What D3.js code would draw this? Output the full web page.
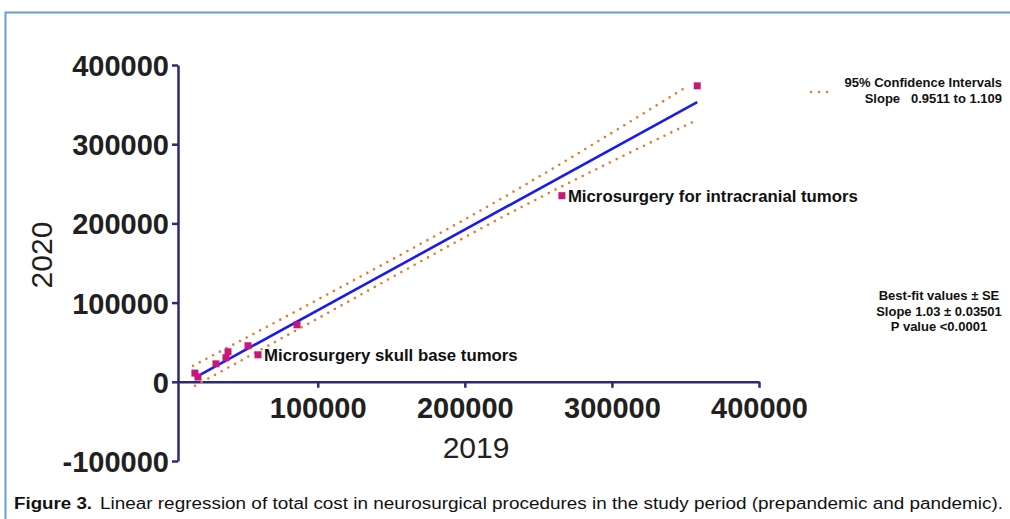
<!DOCTYPE html>
<html>
<head>
<meta charset="utf-8">
<script src="https://cdn.jsdelivr.net/npm/d3@7"></script>
<style>
  body { margin: 0; background: #fff; }
  svg { display: block; font-family: "Liberation Sans", Arial, sans-serif; }
</style>
</head>
<body>
<div id="chart-area"></div>
<script>
// procedures, total cost
var x2019 = [16500, 18600, 30800, 37600, 39000, 52600, 59400, 85900, 266000, 358000];
var y2020 = [11000, 6000, 22700, 30300, 37900, 45500, 34100, 72000, 235000, 373700];
var pointLabels = ["", "", "", "", "", "", "Microsurgery skull base tumors", "", "Microsurgery for intracranial tumors", ""];

// best-fit line (ends)
var fitX = [16560, 358000];
var fitY = [5400, 353000];

// 95% confidence bands
var upperX = [15200, 93400, 237600, 351100];
var upperY = [20200, 97200, 245000, 372800];
var lowerX = [16560, 93400, 237600, 356600];
var lowerY = [-5050, 73200, 219700, 329500];

var xTicks = [100000, 200000, 300000, 400000];
var yTicks = [-100000, 0, 100000, 200000, 300000, 400000];

var width = 1010;
var height = 519;

var svg = d3.select("#chart-area").append("svg")
    .attr("width", width)
    .attr("height", height);

// blue frame
svg.append("path")
    .attr("d", "M5.5,519 L5.5,12.5 L1010,12.5")
    .attr("fill", "none")
    .attr("stroke", "#6b9bd6")
    .attr("stroke-width", 2);

var x = d3.scaleLinear()
    .domain([5000, 400000])
    .range([178, 759]);

var y = d3.scaleLinear()
    .domain([-100000, 400000])
    .range([461, 65]);

var axisColor = "#2b2a78";
var plain = function (d) { return String(d); };

var leftAxis = d3.axisLeft(y)
    .tickValues(yTicks)
    .tickSizeInner(6)
    .tickSizeOuter(0)
    .tickPadding(3)
    .tickFormat(plain);

var gy = svg.append("g")
    .attr("transform", "translate(" + x.range()[0] + ",0)")
    .call(leftAxis);

var bottomAxis = d3.axisBottom(x)
    .tickValues(xTicks)
    .tickSizeInner(6)
    .tickSizeOuter(0)
    .tickPadding(10)
    .tickFormat(plain);

var gx = svg.append("g")
    .attr("transform", "translate(0," + y(0) + ")")
    .call(bottomAxis);

[gx, gy].forEach(function (g) {
    g.select(".domain").attr("stroke", axisColor).attr("stroke-width", 2.5);
    g.selectAll(".tick line").attr("stroke", axisColor).attr("stroke-width", 2.5);
    g.selectAll(".tick text")
        .attr("fill", "#231f20")
        .attr("font-size", "29px")
        .attr("font-weight", "bold")
        .attr("font-family", "'Liberation Sans', Arial, sans-serif");
});
gy.selectAll(".tick text").attr("dy", "0.36em");

// axis titles
svg.append("text")
    .attr("x", 476)
    .attr("y", 458)
    .attr("text-anchor", "middle")
    .attr("font-size", "30px")
    .attr("fill", "#231f20")
    .text("2019");

svg.append("text")
    .attr("transform", "translate(52,255) rotate(-90)")
    .attr("text-anchor", "middle")
    .attr("font-size", "30px")
    .attr("fill", "#231f20")
    .text("2020");

var line = d3.line()
    .x(function (d) { return x(d[0]); })
    .y(function (d) { return y(d[1]); });

var curve = d3.line()
    .x(function (d) { return x(d[0]); })
    .y(function (d) { return y(d[1]); })
    .curve(d3.curveMonotoneX);

var bandColor = "#e8772a";

[[upperX, upperY], [lowerX, lowerY]].forEach(function (b) {
    svg.append("path")
        .datum(d3.zip(b[0], b[1]))
        .attr("d", curve)
        .attr("fill", "none")
        .attr("stroke", bandColor)
        .attr("stroke-width", 2.6)
        .attr("stroke-linecap", "round")
        .attr("stroke-dasharray", "0,7.6");
});

svg.append("path")
    .datum(d3.zip(fitX, fitY))
    .attr("d", line)
    .attr("fill", "none")
    .attr("stroke", "#1a1af0")
    .attr("stroke-width", 2.6);

var pts = d3.zip(x2019, y2020, pointLabels);
var sq = 7;

svg.selectAll("rect.pt")
    .data(pts)
    .enter()
    .append("rect")
    .attr("class", "pt")
    .attr("x", function (d) { return x(d[0]) - sq / 2; })
    .attr("y", function (d) { return y(d[1]) - sq / 2; })
    .attr("width", sq)
    .attr("height", sq)
    .attr("fill", "#c8167a");

svg.selectAll("text.pt-label")
    .data(pts.filter(function (d) { return d[2] !== ""; }))
    .enter()
    .append("text")
    .attr("class", "pt-label")
    .attr("x", function (d) { return x(d[0]) + 6; })
    .attr("y", function (d) { return y(d[1]) + 6; })
    .attr("font-size", "16.8px")
    .attr("font-weight", "bold")
    .attr("fill", "#111")
    .text(function (d) { return d[2]; });

// legend
svg.append("line")
    .attr("x1", 811).attr("x2", 829)
    .attr("y1", 92).attr("y2", 92)
    .attr("stroke", bandColor)
    .attr("stroke-width", 2.6)
    .attr("stroke-linecap", "round")
    .attr("stroke-dasharray", "0,8");

var legendText = svg.append("text")
    .attr("text-anchor", "end")
    .attr("font-size", "13px")
    .attr("font-weight", "bold")
    .attr("fill", "#111");
legendText.append("tspan").attr("x", 1002).attr("y", 87).text("95% Confidence Intervals");
legendText.append("tspan").attr("x", 1002).attr("y", 103).attr("xml:space", "preserve").text("Slope   0.9511 to 1.109");

var fitText = svg.append("text")
    .attr("text-anchor", "middle")
    .attr("font-size", "13px")
    .attr("font-weight", "bold")
    .attr("fill", "#111");
["Best-fit values \u00b1 SE", "Slope 1.03 \u00b1 0.03501", "P value <0.0001"].forEach(function (t, i) {
    fitText.append("tspan").attr("x", 939).attr("y", 300 + i * 15.5).text(t);
});

// caption
var cap = svg.append("text")
    .attr("y", 509)
    .attr("font-size", "16px")
    .attr("fill", "#111");
cap.append("tspan")
    .attr("x", 14)
    .attr("font-weight", "bold")
    .attr("textLength", 78)
    .attr("lengthAdjust", "spacingAndGlyphs")
    .text("Figure 3.");
cap.append("tspan")
    .attr("x", 100)
    .attr("textLength", 903)
    .attr("lengthAdjust", "spacingAndGlyphs")
    .text("Linear regression of total cost in neurosurgical procedures in the study period (prepandemic and pandemic).");
</script>
</body>
</html>
